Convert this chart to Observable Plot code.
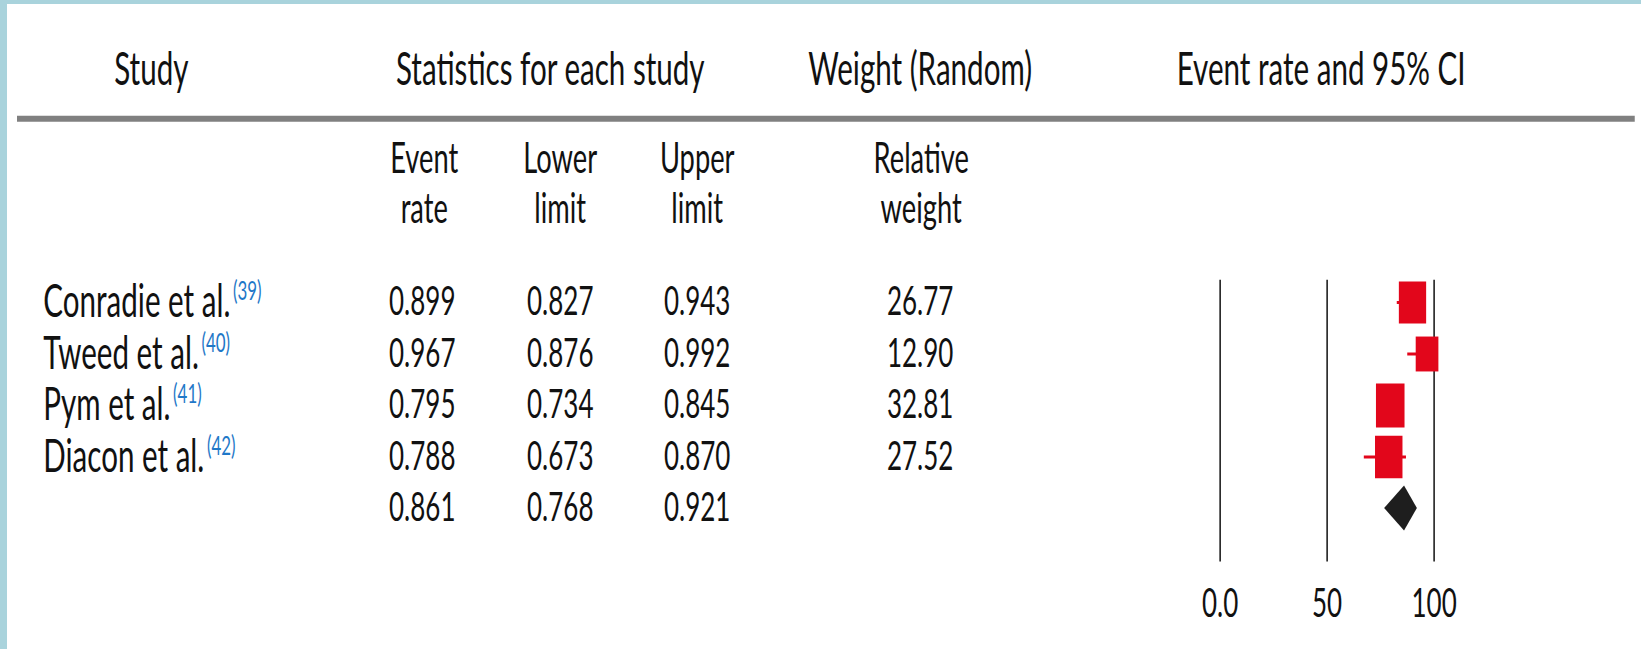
<!DOCTYPE html>
<html><head><meta charset="utf-8">
<script src="https://cdn.jsdelivr.net/npm/d3@7"></script>
<script src="https://cdn.jsdelivr.net/npm/@observablehq/plot@0.6"></script>
<style>
html,body{margin:0;padding:0;background:#fff;}
#frame{position:relative;width:1641px;height:649px;background:#a9d3dc;overflow:hidden;}
#paper{position:absolute;left:7px;top:4px;right:0;bottom:0;background:#fff;}
#chart{position:absolute;left:0;top:0;width:1641px;height:649px;}
</style></head><body>
<div id="frame"><div id="paper"></div><div id="chart"></div></div>
<script>
// ---- data ----
const studies = ["Conradie et al.", "Tweed et al.", "Pym et al.", "Diacon et al."];
const refs = ["(39)", "(40)", "(41)", "(42)"];
const eventRate = [0.899, 0.967, 0.795, 0.788];
const lowerLimit = [0.827, 0.876, 0.734, 0.673];
const upperLimit = [0.943, 0.992, 0.845, 0.870];
const relWeight = [26.77, 12.90, 32.81, 27.52];
const summaryRate = 0.861, summaryLower = 0.768, summaryUpper = 0.921;
const headers = ["Study", "Statistics for each study", "Weight (Random)", "Event rate and 95% CI"];
const subHeaders = ["Event\nrate", "Lower\nlimit", "Upper\nlimit", "Relative\nweight"];
const xTicks = [0, 50, 100];
const xTickLabels = ["0.0", "50", "100"];

// ---- layout (the original figure is horizontally compressed) ----
const K = 0.65;
const W = Math.round(1641 / K), H = 649;
const L = v => v / K;
const headerX = [L(151), L(550), L(920), L(1321)];
const subX = [L(424), L(560), L(697), L(921)];
const nameX = L(43);
const numX = {rate: L(422), lower: L(560), upper: L(697), weight: L(920)};
const rowY = {header: -4.5, sub: -2.34, rule: -3.57, plotTop: -0.43, plotBottom: 5.04, tick: 5.85, diamondHalf: 0.437};
const fontNum = 40, fontWord = 45.5, fontHead = 45.5, fontSub = 42;
const red = "#e2061b", ink = "#111";
const f3 = d3.format(".3f"), f2 = d3.format(".2f");

const rows = studies.map((s, i) => ({i, study: s, rate: eventRate[i], lower: lowerLimit[i], upper: upperLimit[i], weight: relWeight[i]}));
const summaryRow = [{i: studies.length, rate: summaryRate, lower: summaryLower, upper: summaryUpper}];
const allRows = rows.concat(summaryRow);
const diamond = [
  {y: summaryRow[0].i - rowY.diamondHalf, x1: summaryRate * 100, x2: summaryRate * 100},
  {y: summaryRow[0].i, x1: summaryLower * 100, x2: summaryUpper * 100},
  {y: summaryRow[0].i + rowY.diamondHalf, x1: summaryRate * 100, x2: summaryRate * 100}
];

const common = {frameAnchor: "left", fill: ink, fontFamily: "Lato"};
const marks = [];
headers.forEach((h, k) => marks.push(Plot.text([h], {...common, text: d => d, y: () => rowY.header, dx: headerX[k], textAnchor: "middle", fontSize: fontHead})));
marks.push(Plot.ruleY([rowY.rule], {stroke: "#808080", strokeWidth: 6, insetLeft: L(17), insetRight: W - L(1635)}));
subHeaders.forEach((h, k) => marks.push(Plot.text([h], {...common, text: d => d, y: () => rowY.sub, dx: subX[k], textAnchor: "middle", fontSize: fontSub, lineHeight: 1.2})));
marks.push(Plot.text(rows, {...common, y: "i", text: "study", dx: nameX, textAnchor: "start", fontSize: fontWord}));
marks.push(Plot.text(allRows, {...common, y: "i", text: d => f3(d.rate), dx: numX.rate, textAnchor: "middle", fontSize: fontNum}));
marks.push(Plot.text(allRows, {...common, y: "i", text: d => f3(d.lower), dx: numX.lower, textAnchor: "middle", fontSize: fontNum}));
marks.push(Plot.text(allRows, {...common, y: "i", text: d => f3(d.upper), dx: numX.upper, textAnchor: "middle", fontSize: fontNum}));
marks.push(Plot.text(rows, {...common, y: "i", text: d => f2(d.weight), dx: numX.weight, textAnchor: "middle", fontSize: fontNum}));
// forest panel
marks.push(Plot.ruleX(xTicks, {x: d => d, y1: () => rowY.plotTop, y2: () => rowY.plotBottom, stroke: ink, strokeWidth: 1.5 / K}));
marks.push(Plot.ruleY(rows, {y: "i", x1: d => d.lower * 100, x2: d => d.upper * 100, stroke: red, strokeWidth: 3}));
marks.push(Plot.dot(rows, {x: d => d.rate * 100, y: "i", r: "weight", symbol: "square", fill: red, stroke: null}));
marks.push(Plot.areaX(diamond, {y: "y", x1: "x1", x2: "x2", fill: "#1e1e1e"}));
marks.push(Plot.text(xTicks, {x: d => d, y: () => rowY.tick, text: (d, i) => xTickLabels[i], fill: ink, fontFamily: "Lato", fontSize: fontNum, textAnchor: "middle"}));

const svg = Plot.plot({
  width: W, height: H, margin: 0,
  style: {fontFamily: "Lato", background: "transparent", color: ink},
  x: {domain: [0, 100], range: [L(1220), L(1434)], axis: null},
  y: {domain: [0, 4], range: [302, 508], axis: null},
  r: {type: "log", domain: d3.extent(relWeight), range: [19.7, 24.8]},
  marks
});
svg.setAttribute("width", 1641);
svg.setAttribute("height", 649);
svg.setAttribute("preserveAspectRatio", "none");
svg.style.width = "1641px"; svg.style.height = "649px"; svg.style.maxWidth = "none"; svg.style.background = "transparent";
d3.select(svg).selectAll("text").filter(function() { return studies.includes(this.textContent); })
  .each(function() {
    const i = studies.indexOf(this.textContent);
    d3.select(this).append("tspan").attr("dx", 4).attr("dy", -17).attr("font-size", 26).attr("fill", "#1f78c8").text(refs[i]);
  });
document.getElementById("chart").appendChild(svg);
</script>
</body></html>
